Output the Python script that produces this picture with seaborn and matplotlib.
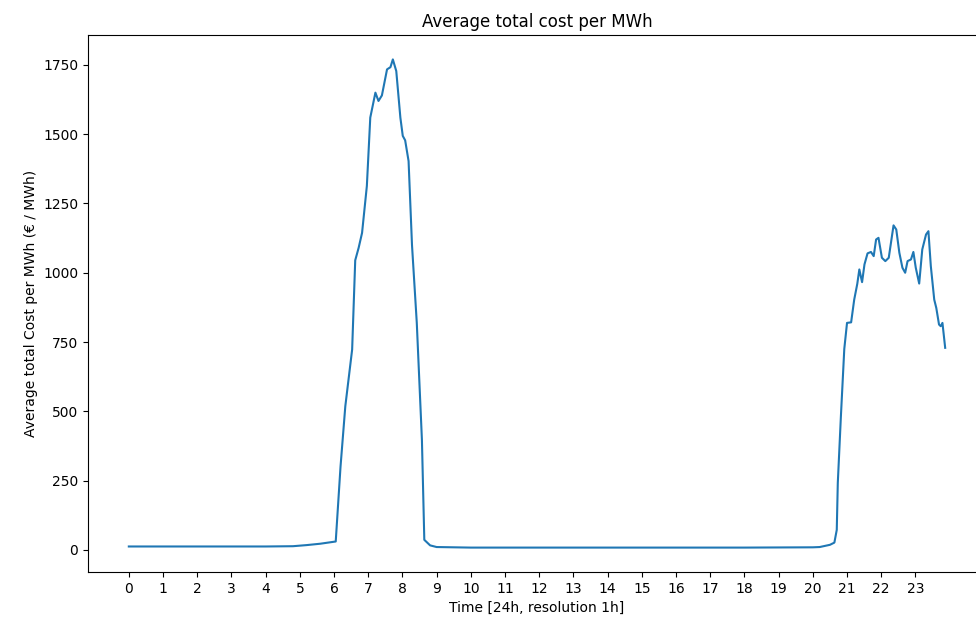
import matplotlib
matplotlib.use("Agg")
import matplotlib.pyplot as plt
import seaborn as sns
import pandas as pd

# Time of day (hours) and average total cost (EUR / MWh)
hours = [0.0, 1.0, 2.0, 3.0, 4.0, 4.8, 5.2, 5.6, 6.05, 6.19, 6.33, 6.53, 6.62,
         6.72, 6.82, 6.96, 7.06, 7.21, 7.30, 7.40, 7.55, 7.65, 7.72, 7.82, 7.94,
         8.01, 8.08, 8.18, 8.28, 8.42, 8.57, 8.64, 8.81, 9.0, 10.0, 12.0, 14.0,
         16.0, 18.0, 20.0, 20.2, 20.5, 20.63, 20.70, 20.73, 20.82, 20.92, 21.0,
         21.12, 21.21, 21.30, 21.36, 21.44, 21.51, 21.60, 21.70, 21.78, 21.85,
         21.92, 22.02, 22.12, 22.22, 22.36, 22.44, 22.53, 22.62, 22.70, 22.77,
         22.87, 22.94, 23.01, 23.11, 23.20, 23.31, 23.38, 23.45, 23.55, 23.61,
         23.69, 23.74, 23.79, 23.87]
cost = [12, 12, 12, 12, 12, 13, 17, 22, 30, 300, 518, 723, 1045,
        1090, 1144, 1313, 1560, 1650, 1620, 1640, 1734, 1742, 1770, 1728, 1560,
        1494, 1478, 1403, 1100, 819, 397, 36, 16, 10, 8, 8, 8,
        8, 8, 9, 10, 18, 26, 72, 241, 480, 725, 819,
        821, 903, 960, 1012, 966, 1030, 1070, 1075, 1060, 1120,
        1126, 1054, 1042, 1054, 1171, 1156, 1072, 1018, 1000, 1042,
        1048, 1075, 1018, 961, 1084, 1138, 1150, 1024, 903, 873,
        813, 807, 819, 729]
hour_ticks = list(range(24))

df = pd.DataFrame({"hour": hours, "cost": cost})

fig = plt.figure(figsize=(9.76, 6.24), dpi=100)
ax = fig.add_axes([88 / 976, 52 / 624, 898 / 976, 537 / 624])
sns.lineplot(data=df, x="hour", y="cost", ax=ax, color="#1f77b4", linewidth=1.5)
ax.set_xticks(hour_ticks)
ax.set_xticklabels([str(h) for h in hour_ticks])
ax.set_yticks([0, 250, 500, 750, 1000, 1250, 1500, 1750])
ax.set_title("Average total cost per MWh")
ax.set_xlabel("Time [24h, resolution 1h]")
ax.set_ylabel("Average total Cost per MWh (€ / MWh)")
fig.savefig("out.png", dpi=100)
